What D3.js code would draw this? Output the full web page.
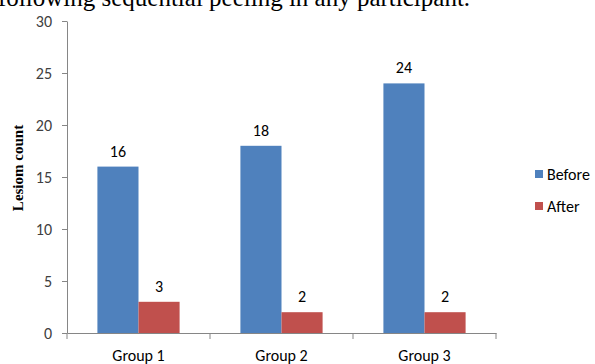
<!DOCTYPE html>
<html>
<head>
<meta charset="utf-8">
<script src="https://cdn.jsdelivr.net/npm/d3@7"></script>
<style>
  body { margin: 0; background: #fff; }
  svg { display: block; }
</style>
</head>
<body>
<div id="chart"></div>
<script>
const groups = ["Group 1", "Group 2", "Group 3"];
const seriesNames = ["Before", "After"];
const beforeValues = [16, 18, 24];
const afterValues = [3, 2, 2];
const yTicks = [0, 5, 10, 15, 20, 25, 30];
const seriesColors = ["#4f81bd", "#c0504d"];

const WIDTH = 595;
const HEIGHT = 364;
const margin = { top: 21, left: 67, right: 99, bottom: 31 };
const tickFont = "Carlito, Lato, sans-serif";

let svg = d3
  .select("#chart")
  .append("svg")
  .attr("width", WIDTH)
  .attr("height", HEIGHT);

//Caption text cut off at the top
svg
  .append("text")
  .attr("x", -2)
  .attr("y", 6)
  .style("font-family", "'Liberation Serif', 'Times New Roman', serif")
  .style("font-size", "25px")
  .style("fill", "#000")
  .text("following sequential peeling in any participant.");

let x = d3
  .scaleBand()
  .domain(groups)
  .range([margin.left, WIDTH - margin.right])
  .paddingInner(0)
  .paddingOuter(0);

//two bars fill 82 of the 143px band
let xInner = d3
  .scaleBand()
  .domain(seriesNames)
  .range([0, x.bandwidth()])
  .paddingInner(0)
  .paddingOuter(0.74);

let y = d3
  .scaleLinear()
  .domain([0, 30])
  .range([HEIGHT - margin.bottom, margin.top]);

let rows = groups.map((g, i) => ({
  group: g,
  values: [beforeValues[i], afterValues[i]],
}));

//Y axis
let yAxis = svg
  .append("g")
  .attr("transform", "translate(" + margin.left + ",0)")
  .call(d3.axisLeft(y).tickValues(yTicks).tickSize(5).tickSizeOuter(0));
yAxis.select(".domain").attr("stroke", "#868686");
yAxis.selectAll(".tick line").attr("stroke", "#868686");
yAxis
  .selectAll(".tick text")
  .attr("x", -15)
  .style("font-family", tickFont)
  .style("font-size", "16px")
  .style("fill", "#404040");

//Bars
let groupG = svg
  .selectAll(".grp")
  .data(rows)
  .enter()
  .append("g")
  .attr("class", "grp")
  .attr("transform", (d) => "translate(" + x(d.group) + ",0)");

groupG
  .selectAll("rect")
  .data((d) => d.values.map((v, j) => ({ name: seriesNames[j], value: v, idx: j })))
  .enter()
  .append("rect")
  .attr("x", (d) => xInner(d.name))
  .attr("y", (d) => y(d.value))
  .attr("width", xInner.bandwidth())
  .attr("height", (d) => y(0) - y(d.value))
  .attr("fill", (d) => seriesColors[d.idx]);

//Data labels
groupG
  .selectAll(".lbl")
  .data((d) => d.values.map((v, j) => ({ name: seriesNames[j], value: v })))
  .enter()
  .append("text")
  .attr("class", "lbl")
  .attr("x", (d) => xInner(d.name) + xInner.bandwidth() / 2)
  .attr("y", (d) => y(d.value) - 10)
  .attr("text-anchor", "middle")
  .style("font-family", tickFont)
  .style("font-size", "16px")
  .style("fill", "#000")
  .text((d) => d.value);

//X axis
let xAxis = svg
  .append("g")
  .attr("transform", "translate(0," + y(0) + ")")
  .call(d3.axisBottom(x).tickSize(0).tickSizeOuter(0));
xAxis.select(".domain").attr("stroke", "#868686");
xAxis
  .selectAll(".tick text")
  .attr("dy", "1.55em")
  .style("font-family", tickFont)
  .style("font-size", "16px")
  .style("fill", "#000");

//Category boundary ticks
let boundaries = groups.map((g) => x(g)).concat([x.range()[1]]);
xAxis
  .selectAll(".bound")
  .data(boundaries)
  .enter()
  .append("line")
  .attr("class", "bound")
  .attr("x1", (d) => d)
  .attr("x2", (d) => d)
  .attr("y1", 0)
  .attr("y2", 6)
  .attr("stroke", "#868686");

//Y label
svg
  .append("text")
  .attr("transform", "translate(23,168) rotate(-90)")
  .attr("text-anchor", "middle")
  .style("font-family", "'Liberation Serif', 'Times New Roman', serif")
  .style("font-weight", "bold")
  .style("font-size", "15px")
  .text("Lesiom count");

//Legend
let legend = svg
  .selectAll(".leg")
  .data(seriesNames)
  .enter()
  .append("g")
  .attr("class", "leg")
  .attr("transform", (d, i) => "translate(535," + (170 + i * 32) + ")");

legend
  .append("rect")
  .attr("width", 8)
  .attr("height", 8)
  .attr("fill", (d, i) => seriesColors[i]);

legend
  .append("text")
  .attr("x", 12)
  .attr("y", 4)
  .attr("dy", "0.35em")
  .style("font-family", tickFont)
  .style("font-size", "16px")
  .style("fill", "#000")
  .text((d) => d);
</script>
</body>
</html>
